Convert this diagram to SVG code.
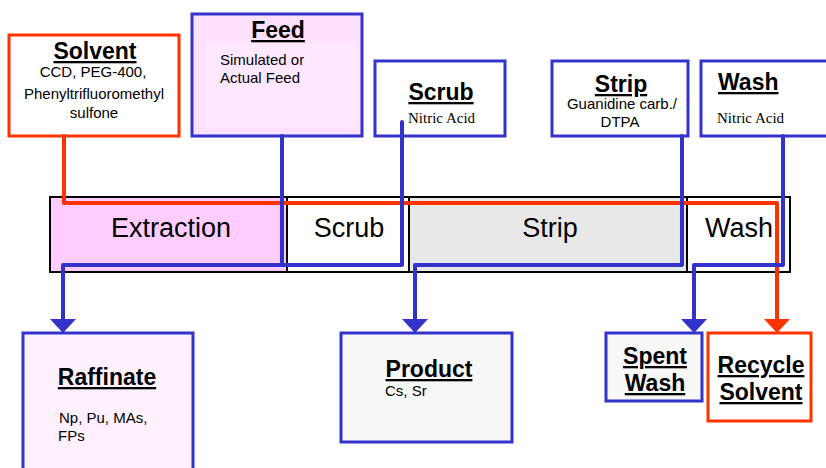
<svg xmlns="http://www.w3.org/2000/svg" width="826" height="468" viewBox="0 0 826 468">
<style>
.hd{font-family:"Liberation Sans",Arial,sans-serif;font-weight:bold;font-size:23px;text-decoration:underline;fill:#000}
.tx{font-family:"Liberation Sans",Arial,sans-serif;font-size:15px;fill:#000}
.sf{font-family:"Liberation Serif","Times New Roman",serif;font-size:15px;fill:#000}
.bar{font-family:"Liberation Sans",Arial,sans-serif;font-size:27px;fill:#000}
.bb{stroke:#3333CC;stroke-width:3}
.rb{stroke:#FF3300;stroke-width:3}
.bl{fill:none;stroke:#3333CC;stroke-width:4;stroke-linejoin:round;stroke-linecap:round}
.rl{fill:none;stroke:#FF3300;stroke-width:4;stroke-linejoin:round;stroke-linecap:round}
.cell{stroke:#000;stroke-width:2}
</style>
<rect width="826" height="468" fill="#fff"/>
<g id="process-bar">
<rect class="cell" x="50" y="197" width="237" height="75" fill="#FFCCFF"/>
<rect class="cell" x="287" y="197" width="122" height="75" fill="#fff"/>
<rect class="cell" x="409" y="197" width="278" height="75" fill="#E8E8E8"/>
<rect class="cell" x="687" y="197" width="103" height="75" fill="#fff"/>
<text class="bar" x="171" y="237" text-anchor="middle">Extraction</text>
<text class="bar" x="349" y="237" text-anchor="middle">Scrub</text>
<text class="bar" x="550" y="237" text-anchor="middle">Strip</text>
<text class="bar" x="739" y="237" text-anchor="middle">Wash</text>
</g>
<g id="solvent">
<rect class="rb" x="9" y="35" width="170" height="101" fill="#fff"/>
<text class="hd" x="95" y="59" text-anchor="middle">Solvent</text>
<text class="tx" x="93" y="77" text-anchor="middle">CCD, PEG-400,</text>
<text class="tx" x="94" y="99" text-anchor="middle">Phenyltrifluoromethyl</text>
<text class="tx" x="94" y="118" text-anchor="middle">sulfone</text>
</g>
<g id="feed">
<rect class="bb" x="192" y="14" width="170" height="122" fill="#FFE0FF"/>
<rect x="204" y="43" width="153" height="84" fill="#FFE8FF"/>
<text class="hd" x="278" y="38" text-anchor="middle">Feed</text>
<text class="tx" x="220" y="65">Simulated or</text>
<text class="tx" x="220" y="83">Actual Feed</text>
</g>
<g id="scrub">
<rect class="bb" x="375" y="61" width="130" height="75" fill="#fff"/>
<text class="hd" x="441" y="100" text-anchor="middle">Scrub</text>
<text class="sf" x="408" y="123">Nitric Acid</text>
</g>
<g id="strip">
<rect class="bb" x="552" y="61" width="136" height="75" fill="#fff"/>
<text class="hd" x="621" y="92" text-anchor="middle">Strip</text>
<text class="tx" x="622" y="109" text-anchor="middle">Guanidine carb./</text>
<text class="tx" x="620" y="127" text-anchor="middle">DTPA</text>
</g>
<g id="wash">
<rect class="bb" x="701" y="61" width="130" height="75" fill="#fff"/>
<text class="hd" x="718" y="90">Wash</text>
<text class="sf" x="717" y="123">Nitric Acid</text>
</g>
<g id="connectors">
<polyline class="rl" points="64,136 64,203 777,203 777,320"/>
<polygon points="764,319 790,319 777,333" fill="#FF3300"/>
<polyline class="bl" points="282,136 282,265"/>
<polyline class="bl" points="402,122 402,265 63,265 63,320"/>
<polygon points="50,319 76,319 63,333" fill="#3333CC"/>
<polyline class="bl" points="682,136 682,265 415,265 415,320"/>
<polygon points="402,319 428,319 415,333" fill="#3333CC"/>
<polyline class="bl" points="783,136 783,265 694,265 694,320"/>
<polygon points="681,319 707,319 694,333" fill="#3333CC"/>
</g>
<g id="raffinate">
<rect class="bb" x="23" y="333" width="170" height="140" fill="#FFF0FF"/>
<text class="hd" x="107" y="385" text-anchor="middle">Raffinate</text>
<text class="tx" x="59" y="423">Np, Pu, MAs,</text>
<text class="tx" x="58" y="441">FPs</text>
</g>
<g id="product">
<rect class="bb" x="341" y="333" width="171" height="109" fill="#F7F7F7"/>
<text class="hd" x="429" y="377" text-anchor="middle">Product</text>
<text class="tx" x="385" y="396">Cs, Sr</text>
</g>
<g id="spent-wash">
<rect class="bb" x="606" y="333" width="96" height="68" fill="#F7F7F7"/>
<text class="hd" x="655" y="364" text-anchor="middle">Spent</text>
<text class="hd" x="655" y="391" text-anchor="middle">Wash</text>
</g>
<g id="recycle-solvent">
<rect class="rb" x="708" y="333" width="103" height="88" fill="#fff"/>
<text class="hd" x="761" y="373" text-anchor="middle">Recycle</text>
<text class="hd" x="761" y="400" text-anchor="middle">Solvent</text>
</g>
</svg>
